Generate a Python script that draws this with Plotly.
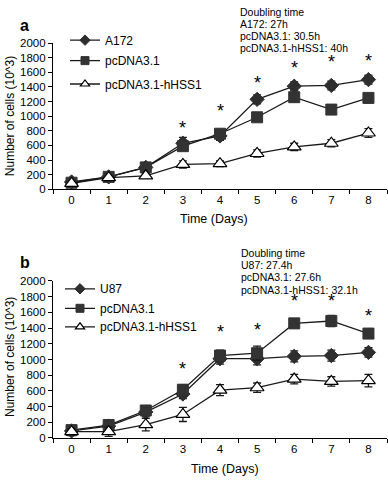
import plotly.graph_objects as go

FONT = "Liberation Sans, Arial, sans-serif"
W, H = 388, 482

days = ["0", "1", "2", "3", "4", "5", "6", "7", "8"]

# Panel a
a_labels = ["A172", "pcDNA3.1", "pcDNA3.1-hHSS1"]
a_ctrl = [100, 170, 300, 630, 730, 1230, 1410, 1420, 1500]
a_ctrl_err = [30, 30, 30, 80, 60, 60, 60, 60, 60]
a_vec = [90, 170, 300, 590, 760, 985, 1260, 1090, 1250]
a_vec_err = [25, 25, 25, 40, 30, 30, 40, 40, 40]
a_hss = [80, 160, 185, 340, 350, 490, 580, 630, 770]
a_hss_err = [20, 20, 25, 50, 40, 50, 50, 50, 60]
a_star_days = ["3", "4", "5", "6", "7", "8"]
a_star_y = [840, 1065, 1460, 1660, 1740, 1760]
a_doubling = ["Doubling time", "A172: 27h", "pcDNA3.1: 30.5h", "pcDNA3.1-hHSS1: 40h"]

# Panel b
b_labels = ["U87", "pcDNA3.1", "pcDNA3.1-hHSS1"]
b_ctrl = [90, 150, 330, 560, 1010, 1010, 1040, 1050, 1090]
b_ctrl_err = [60, 60, 60, 60, 70, 80, 70, 70, 60]
b_vec = [100, 165, 350, 615, 1050, 1080, 1460, 1490, 1330]
b_vec_err = [50, 50, 40, 60, 70, 90, 60, 70, 60]
b_hss = [80, 80, 170, 300, 610, 640, 750, 720, 730]
b_hss_err = [40, 60, 80, 90, 70, 60, 60, 60, 80]
b_star_days = ["3", "4", "5", "6", "7", "8"]
b_star_y = [880, 1345, 1370, 1740, 1740, 1555]
b_doubling = ["Doubling time", "U87: 27.4h", "pcDNA3.1: 27.6h", "pcDNA3.1-hHSS1: 32.1h"]

y_ticks = [0, 200, 400, 600, 800, 1000, 1200, 1400, 1600, 1800, 2000]

fig = go.Figure()

styles = [
    dict(symbol="diamond", color="#2e2e2e", line=dict(color="#2e2e2e", width=1)),
    dict(symbol="square", color="#333333", line=dict(color="#333333", width=1)),
    dict(symbol="triangle-up", color="white", line=dict(color="black", width=1.2)),
]
plot_sizes = [11, 11, 12]
legend_sizes = [8, 8, 8]


def add_panel(vals_errs, labels, xa, ya, legends):
    for (vals, errs), lab, st, ps, ls, lg in zip(vals_errs, labels, styles, plot_sizes,
                                                  legend_sizes, legends):
        fig.add_trace(go.Scatter(
            x=days, y=vals, name=lab, mode="lines+markers", showlegend=False,
            xaxis=xa, yaxis=ya,
            line=dict(color="#1a1a1a", width=1.3),
            marker=dict(st, size=ps),
            error_y=dict(type="data", array=errs, visible=True,
                         color="#1a1a1a", thickness=1.3, width=4),
        ))
        # legend entry (smaller marker, as in the reference legend)
        fig.add_trace(go.Scatter(
            x=[None], y=[None], name=lab, mode="lines+markers", showlegend=True,
            xaxis=xa, yaxis=ya, legend=lg,
            line=dict(color="#1a1a1a", width=1.3),
            marker=dict(st, size=ls),
        ))


add_panel([(a_ctrl, a_ctrl_err), (a_vec, a_vec_err), (a_hss, a_hss_err)], a_labels, "x", "y",
          ["legend", "legend2", "legend3"])
add_panel([(b_ctrl, b_ctrl_err), (b_vec, b_vec_err), (b_hss, b_hss_err)], b_labels, "x2", "y2",
          ["legend4", "legend5", "legend6"])

xdom = [53 / W, 387 / W]
ya_dom = [1 - 188 / H, 1 - 38 / H]
yb_dom = [1 - 443 / H, 1 - 282 / H]

axis_common = dict(showline=True, linecolor="black", linewidth=1.2, ticks="outside",
                   ticklen=4, tickwidth=1.2, tickcolor="black", showgrid=False,
                   zeroline=False, tickfont=dict(family=FONT, size=11.5, color="black"))

xcommon = dict(axis_common, type="category", categoryorder="array", categoryarray=days,
               tickson="boundaries", range=[-0.5, 8.5], domain=xdom)
ycommon = dict(axis_common, range=[0, 2000], tickvals=y_ticks, fixedrange=True)


def leg(xpx, ypx):
    return dict(x=xpx / W, y=1 - ypx / H, xanchor="left", yanchor="middle",
                bgcolor="rgba(0,0,0,0)", font=dict(family=FONT, size=12),
                borderwidth=0)


fig.update_layout(
    width=W, height=H, autosize=False,
    margin=dict(l=0, r=0, t=0, b=0),
    paper_bgcolor="white", plot_bgcolor="white",
    font=dict(family=FONT, color="black"),
    xaxis=dict(xcommon, anchor="y"),
    yaxis=dict(ycommon, domain=ya_dom, anchor="x"),
    xaxis2=dict(xcommon, anchor="y2"),
    yaxis2=dict(ycommon, domain=yb_dom, anchor="x2"),
    legend=leg(65, 35),
    legend2=leg(65, 56),
    legend3=leg(65, 80),
    legend4=leg(60, 290),
    legend5=leg(60, 310),
    legend6=leg(60, 329),
    showlegend=True,
)

ann = []
for d, yv in zip(a_star_days, a_star_y):
    ann.append(dict(x=d, y=yv, xref="x", yref="y", text="*", showarrow=False,
                    font=dict(family=FONT, size=18, color="black"), yanchor="middle"))
for d, yv in zip(b_star_days, b_star_y):
    ann.append(dict(x=d, y=yv, xref="x2", yref="y2", text="*", showarrow=False,
                    font=dict(family=FONT, size=18, color="black"), yanchor="middle"))

for i, t in enumerate(a_doubling):
    ann.append(dict(x=238 / W, y=1 - (6 + 12.5 * i) / H, xref="paper", yref="paper", text=t,
                    showarrow=False, xanchor="left", yanchor="middle",
                    font=dict(family=FONT, size=10.5, color="black")))
for i, t in enumerate(b_doubling):
    ann.append(dict(x=239 / W, y=1 - (253 + 12.7 * i) / H, xref="paper", yref="paper", text=t,
                    showarrow=False, xanchor="left", yanchor="middle",
                    font=dict(family=FONT, size=10.5, color="black")))

# panel letters
ann.append(dict(x=18 / W, y=1 - 20 / H, xref="paper", yref="paper", text="<b>a</b>",
                showarrow=False, xanchor="left", yanchor="middle",
                font=dict(family=FONT, size=16, color="black")))
ann.append(dict(x=18 / W, y=1 - 263 / H, xref="paper", yref="paper", text="<b>b</b>",
                showarrow=False, xanchor="left", yanchor="middle",
                font=dict(family=FONT, size=16, color="black")))

# axis titles
for ytitle_c, xt_c in [(113, (214, 218)), (360, (225, 475))]:
    ann.append(dict(x=10 / W, y=1 - ytitle_c / H, xref="paper", yref="paper",
                    text="Number of cells (10^3)", textangle=-90, showarrow=False,
                    xanchor="center", yanchor="middle",
                    font=dict(family=FONT, size=12, color="black")))
    ann.append(dict(x=xt_c[0] / W, y=1 - xt_c[1] / H, xref="paper", yref="paper",
                    text="Time (Days)", showarrow=False, xanchor="center", yanchor="middle",
                    font=dict(family=FONT, size=12.5, color="black")))

fig.update_layout(annotations=ann)

fig.write_html("out.html", config={"displayModeBar": False},
               post_script="document.body.style.margin='0px';")
